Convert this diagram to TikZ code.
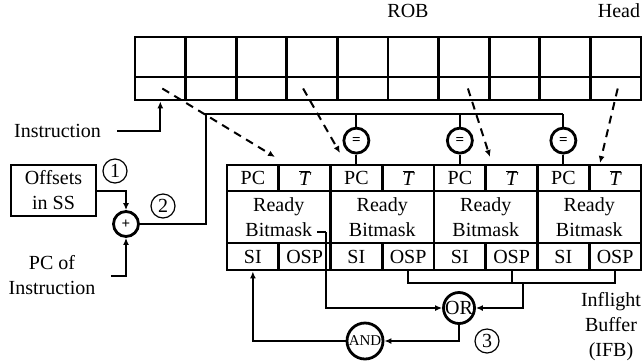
\documentclass[tikz,border=0pt]{standalone}
\usepackage{fontspec}
\setmainfont{Liberation Serif}
\usetikzlibrary{arrows.meta,calc}

\begin{document}
\begin{tikzpicture}[x=1pt, y=-1pt, >={Latex[length=7pt,width=6pt]},
    font=\fontsize{20}{25}\selectfont,
    robcell/.style={draw, line width=2.8pt, inner sep=0pt, minimum width=50.6pt},
    ifbcell/.style={draw, line width=2.8pt, inner sep=0pt, minimum width=#1},
    wire/.style={line width=2pt},
    trace/.style={->, line width=2pt, dash pattern=on 8pt off 6pt},
    opnode/.style={draw, circle, line width=2.8pt, inner sep=0pt, minimum size=#1},
    stepnum/.style={draw, circle, line width=1.2pt, inner sep=0pt, minimum size=24pt}]
    \useasboundingbox (0,0) rectangle (644,360);
    % --- ROB: two rows of ten entries ---
    \foreach \i in {1,...,10}{
      \pgfmathsetmacro{\cx}{135+50.6*(\i-0.5)}
      \node[robcell, minimum height=40pt] (r\i) at (\cx,57) {};
      \node[robcell, minimum height=23pt] (b\i) at (\cx,88.5) {};
    }
    \node (rob) at (408,11) {ROB};
    \node (head) at (619,11) {Head};
    % --- Inflight buffer: four entries ---
    \foreach \i in {1,...,4}{
      \pgfmathsetmacro{\sx}{227+103.5*(\i-1)}
      \node[ifbcell=51.75pt, minimum height=26pt] (pc\i) at (\sx+25.875,178) {PC};
      \node[ifbcell=51.75pt, minimum height=26pt] (t\i) at (\sx+77.625,178) {$\overline{\textit{T}}$};
      \node[ifbcell=103.5pt, minimum height=52pt, align=center] (rb\i) at (\sx+51.75,217) {Ready\\Bitmask};
      \node[ifbcell=51.75pt, minimum height=27pt] (si\i) at (\sx+25.875,256.5) {SI};
      \node[ifbcell=51.75pt, minimum height=27pt] (osp\i) at (\sx+77.625,256.5) {OSP};
    }
    \node[align=center] (ifb) at (611,327) {Inflight\\Buffer\\(IFB)};
    % --- left side: offset adder ---
    \node[draw, line width=2.8pt, minimum width=85pt, minimum height=51pt, inner sep=0pt, align=center]
      (off) at (53.5,190.5) {Offsets\\in SS};
    \node[opnode=25pt, font=\fontsize{15}{15}\selectfont\bfseries] (plus) at (126,224) {+};
    \node (ins) at (57.5,131) {Instruction};
    \node[align=center] (pcins) at (52,275.5) {PC of\\Instruction};
    \node[stepnum] (n1) at (115,171) {1};
    \node[stepnum] (n2) at (163,206) {2};
    \draw[wire, ->] (off.east) -| (plus.north);
    \draw[wire, ->, shorten <=12pt] (pcins.east) -| (plus.south);
    \draw[wire, ->, shorten <=13pt] (ins.east) -| (b1.south);
    % --- compare PCs ---
    \coordinate (bus) at (206,114);
    \foreach \i in {2,3,4}{
      \node[opnode=25pt, font=\fontsize{15}{15}\selectfont\bfseries] (eq\i) at ($(pc\i.north)+(0,-23)$) {=};
      \draw[wire] (bus -| eq\i) -- (eq\i.north);
      \draw[wire] (eq\i.south) -- (pc\i.north);
    }
    \draw[wire] (plus.east) -| (bus) -- (bus -| eq4);
    % --- dashed traces from ROB ---
    \coordinate (d1) at (275,157);
    \coordinate (d2) at (340,153);
    \coordinate (d3) at (490,157);
    \coordinate (d4) at (600,163);
    \draw[trace] ($(b1.center)+(2,0)$) -- (d1);
    \draw[trace] ($(b4.center)+(-9,0)$) -- (d2);
    \draw[trace] ($(b7.center)+(4,0)$) -- (d3);
    \draw[trace] ($(b10.center)+(2,0)$) -- (d4);
    % --- OR / AND feedback ---
    \node[opnode=31pt] (or) at (459,308) {OR};
    \node[opnode=36pt, font=\fontsize{15}{15}\selectfont] (and) at (365,341) {AND};
    \node[stepnum] (n3) at (487,341) {3};
    \coordinate (bm) at (317,232);
    \draw[wire, line width=1.2pt] (bm) -- ++(9,0) coordinate (bmr);
    \draw[wire, ->] (bmr) |- (or.west);
    \coordinate (ob) at (523,283);
    \draw[wire] (osp2.south) |- (ob) -| (osp4.south);
    \draw[wire] (osp3.south) -- (osp3.south |- ob);
    \draw[wire, ->] (ob) |- (or.east);
    \draw[wire, ->] (or.south) |- (and.east);
    \draw[wire, ->] (and.west) -| (si1.south);
\end{tikzpicture}
\end{document}
